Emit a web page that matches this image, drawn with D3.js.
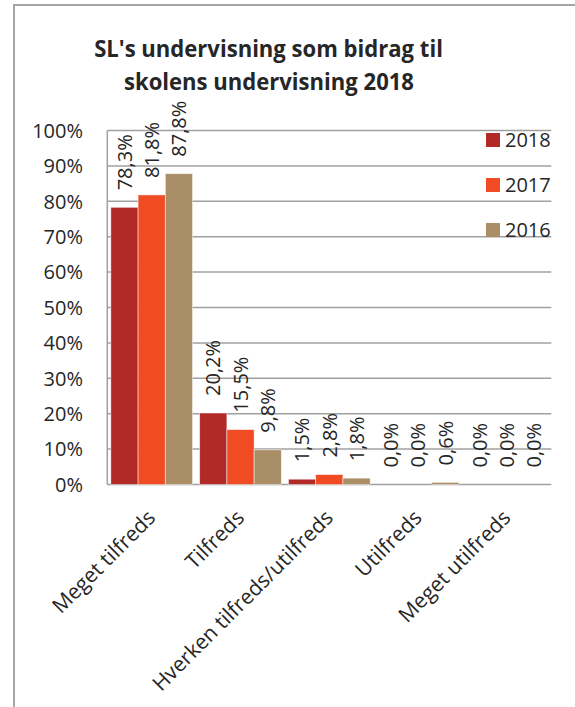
<!DOCTYPE html>
<html>
<head>
<meta charset="utf-8">
<script src="https://cdn.jsdelivr.net/npm/d3@7"></script>
<style>
  html, body { margin: 0; padding: 0; background: #fff; }
  svg { display: block; }
  text { font-family: "Open Sans", "Noto Sans", sans-serif; fill: #262626; }
</style>
</head>
<body>
<script>
const categories = ["Meget tilfreds", "Tilfreds", "Hverken tilfreds/utilfreds", "Utilfreds", "Meget utilfreds"];
const seriesNames = ["2018", "2017", "2016"];
const values2018 = [78.3, 20.2, 1.5, 0.0, 0.0];
const values2017 = [81.8, 15.5, 2.8, 0.0, 0.0];
const values2016 = [87.8, 9.8, 1.8, 0.6, 0.0];
const yTicks = [0, 10, 20, 30, 40, 50, 60, 70, 80, 90, 100];
const titleLines = ["SL's undervisning som bidrag til", "skolens undervisning 2018"];

const seriesValues = [values2018, values2017, values2016];
const colors = ["#B22A26", "#F04B23", "#A98E67"];

const W = 575, H = 707;
const plot = { left: 107.3, right: 551.3, top: 130.5, bottom: 484.5 };

const svg = d3.select("body").append("svg").attr("width", W).attr("height", H);

// outer frame
svg.append("line").attr("x1", 13).attr("x2", 575).attr("y1", 5).attr("y2", 5)
  .attr("stroke", "#A3A6A9").attr("stroke-width", 2);
svg.append("line").attr("x1", 14).attr("x2", 14).attr("y1", 4).attr("y2", H)
  .attr("stroke", "#A3A6A9").attr("stroke-width", 2);

// title
svg.append("text").attr("transform", "translate(268.5,57) scale(0.92,1)").attr("text-anchor", "middle")
  .attr("font-size", 24).attr("font-weight", "bold").text(titleLines[0]);
svg.append("text").attr("transform", "translate(269,90) scale(0.92,1)").attr("text-anchor", "middle")
  .attr("font-size", 24).attr("font-weight", "bold").text(titleLines[1]);

const x0 = d3.scaleBand().domain(categories).range([plot.left, plot.right])
  .paddingInner(0.08).paddingOuter(0.04);
const x1 = d3.scaleBand().domain(seriesNames).range([0, x0.bandwidth()]);
const y = d3.scaleLinear().domain([0, 100]).range([plot.bottom, plot.top]);

// gridlines
svg.append("g").selectAll("line").data(yTicks).join("line")
  .attr("x1", plot.left).attr("x2", plot.right)
  .attr("y1", d => y(d)).attr("y2", d => y(d))
  .attr("stroke", "#A0A0A0").attr("stroke-width", 1.5);
// left axis line
svg.append("line").attr("x1", plot.left).attr("x2", plot.left)
  .attr("y1", y(100)).attr("y2", y(0)).attr("stroke", "#A0A0A0").attr("stroke-width", 1.5);

// y tick labels
svg.append("g").selectAll("text").data(yTicks).join("text")
  .attr("x", 83).attr("y", d => y(d)).attr("dy", "0.36em")
  .attr("text-anchor", "end").attr("font-size", 20)
  .text(d => d + "%");

// bars
const rows = [];
categories.forEach((c, i) => {
  seriesNames.forEach((s, j) => rows.push({ cat: c, series: s, v: seriesValues[j][i], color: colors[j] }));
});

svg.append("g").selectAll("rect").data(rows).join("rect")
  .attr("x", d => x0(d.cat) + x1(d.series))
  .attr("width", x1.bandwidth())
  .attr("y", d => y(d.v))
  .attr("height", d => y(0) - y(d.v))
  .attr("fill", d => d.color)
  .attr("stroke", "#ffffff").attr("stroke-opacity", 0.6).attr("stroke-width", 0.8);

// value labels (rotated)
svg.append("g").selectAll("text").data(rows).join("text")
  .attr("transform", d => `translate(${x0(d.cat) + x1(d.series) + x1.bandwidth() / 2},${y(d.v) - 17}) rotate(-90)`)
  .attr("dy", "0.36em").attr("font-size", 20).attr("text-anchor", "start")
  .text(d => d.v.toFixed(1).replace(".", ",") + "%");

// x labels
svg.append("g").selectAll("text").data(categories).join("text")
  .attr("transform", d => `translate(${x0(d) + x0.bandwidth() / 2 + 5},519) rotate(-45)`)
  .attr("text-anchor", "end").attr("font-size", 21)
  .text(d => d);

// legend
const legendY = [140, 185, 230];
const lg = svg.append("g");
seriesNames.forEach((s, i) => {
  lg.append("rect").attr("x", 486).attr("y", legendY[i] - 7).attr("width", 14).attr("height", 14)
    .attr("fill", colors[i]);
  lg.append("text").attr("x", 505).attr("y", legendY[i]).attr("dy", "0.36em")
    .attr("font-size", 20).text(s);
});
</script>
</body>
</html>
